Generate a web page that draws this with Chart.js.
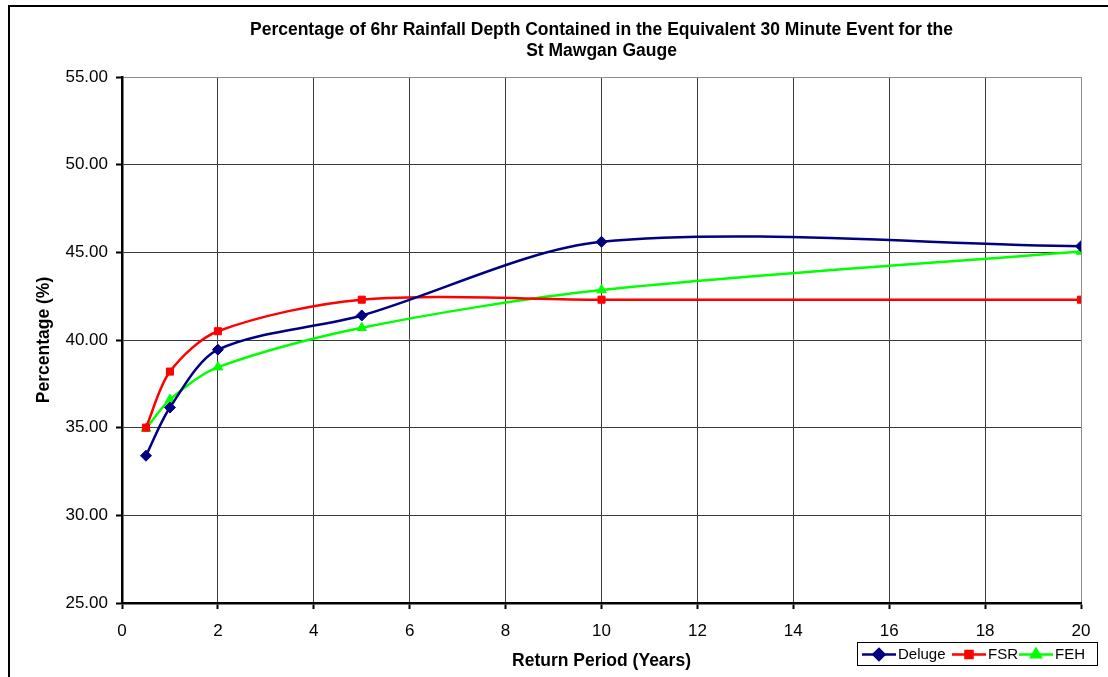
<!DOCTYPE html>
<html>
<head>
<meta charset="utf-8">
<script src="https://cdn.jsdelivr.net/npm/chart.js@4.4.0/dist/chart.umd.min.js"></script>
<style>
  html, body { margin: 0; padding: 0; background: #fff; }
  #wrap { width: 1108px; height: 677px; position: relative; }
</style>
</head>
<body>
<div id="wrap"><canvas id="rainChart" width="1108" height="677"></canvas></div>
<script>
// Return periods (years) and the % of 6hr depth in the 30 minute event
const returnPeriods = [0.5, 1, 2, 5, 10, 20];
const delugeValues = [33.4, 36.15, 39.45, 41.4, 45.6, 45.35];
const fsrValues = [35.0, 38.2, 40.5, 42.3, 42.3, 42.3];
const fehValues = [34.95, 36.6, 38.45, 40.7, 42.85, 45.05];
const seriesNames = ["Deluge", "FSR", "FEH"];

const titleLines = [
  "Percentage of 6hr Rainfall Depth Contained in the Equivalent 30 Minute Event for the",
  "St Mawgan Gauge"
];

const FONT = "'Liberation Sans', Arial, sans-serif";

function toPoints(values) {
  return returnPeriods.map((x, i) => ({ x: x, y: values[i] }));
}

function series(label, values, color, style, radius) {
  return {
    label: label,
    data: toPoints(values),
    borderColor: color,
    backgroundColor: color,
    borderWidth: 2.5,
    pointStyle: style,
    pointRadius: radius,
    pointHoverRadius: radius,
    pointBorderWidth: 1,
    tension: 0.3,
    fill: false
  };
}

// frame, title and the boxed legend bottom-right
const decorations = {
  id: "decorations",
  beforeDraw(chart) {
    const ctx = chart.ctx;
    ctx.save();
    ctx.fillStyle = "#fff";
    ctx.fillRect(0, 0, chart.width, chart.height);
    ctx.strokeStyle = "#000";
    ctx.lineWidth = 2;
    ctx.strokeRect(9, 6, chart.width + 20, chart.height + 20);
    ctx.restore();
  },
  afterDraw(chart) {
    const ctx = chart.ctx;
    const area = chart.chartArea;
    ctx.save();
    ctx.fillStyle = "#000";
    ctx.font = "bold 17.5px " + FONT;
    ctx.textAlign = "center";
    ctx.textBaseline = "middle";
    const cx = (area.left + area.right) / 2;
    ctx.fillText(titleLines[0], cx, 30);
    ctx.fillText(titleLines[1], cx, 51);

    // legend
    const lx = 857, ly = 642, lw = 240, lh = 23;
    ctx.fillStyle = "#fff";
    ctx.fillRect(lx, ly, lw, lh);
    ctx.strokeStyle = "#000";
    ctx.lineWidth = 1;
    ctx.strokeRect(lx + 0.5, ly + 0.5, lw, lh);
    ctx.font = "15px " + FONT;
    ctx.textAlign = "left";
    const offsets = [5, 95, 162];
    chart.data.datasets.forEach((ds, i) => {
      const x0 = lx + offsets[i];
      const y0 = ly + lh / 2 + 1;
      ctx.strokeStyle = ds.borderColor;
      ctx.lineWidth = 2.5;
      ctx.beginPath();
      ctx.moveTo(x0, y0);
      ctx.lineTo(x0 + 34, y0);
      ctx.stroke();
      ctx.fillStyle = ds.backgroundColor;
      Chart.helpers.drawPoint(ctx, {
        pointStyle: ds.pointStyle,
        radius: ds.pointRadius,
        borderWidth: 1,
        rotation: 0
      }, x0 + 17, y0);
      ctx.fillStyle = "#000";
      ctx.fillText(ds.label, x0 + 36, y0);
    });
    ctx.restore();
  }
};

function gridColor(edgeValue) {
  return (c) => (c.tick && c.tick.value === edgeValue ? "#8c8c8c" : "#3a3a3a");
}

new Chart(document.getElementById("rainChart"), {
  type: "line",
  data: {
    datasets: [
      series(seriesNames[0], delugeValues, "#000080", "rectRot", 5.5),
      series(seriesNames[1], fsrValues, "#ff0000", "rect", 5),
      series(seriesNames[2], fehValues, "#00ff00", "triangle", 5.5)
    ]
  },
  options: {
    responsive: false,
    animation: false,
    devicePixelRatio: 1,
    layout: { padding: { top: 77, right: 27, bottom: 0, left: 0 } },
    plugins: {
      legend: { display: false },
      title: { display: false },
      tooltip: { enabled: false }
    },
    scales: {
      x: {
        type: "linear",
        min: 0,
        max: 20,
        afterFit: (scale) => { scale.height = 74; },
        ticks: {
          stepSize: 2,
          color: "#000",
          padding: 12,
          font: { family: FONT, size: 17 }
        },
        grid: {
          color: gridColor(20),
          lineWidth: 1,
          tickLength: 6,
          tickColor: "#000",
          tickWidth: 2
        },
        border: { color: "#000", width: 2.5 },
        title: {
          display: true,
          text: "Return Period (Years)",
          color: "#000",
          font: { family: FONT, size: 17.5, weight: "bold" },
          padding: { top: 0, bottom: 5 }
        }
      },
      y: {
        min: 25,
        max: 55,
        afterFit: (scale) => { scale.width = 122; },
        ticks: {
          stepSize: 5,
          color: "#000",
          padding: 8,
          font: { family: FONT, size: 17 },
          callback: (v) => Number(v).toFixed(2)
        },
        grid: {
          color: gridColor(55),
          lineWidth: 1,
          tickLength: 6,
          tickColor: "#000",
          tickWidth: 2
        },
        border: { color: "#000", width: 2.5 },
        title: {
          display: true,
          text: "Percentage (%)",
          color: "#000",
          font: { family: FONT, size: 17.5, weight: "bold" },
          padding: { top: 34, bottom: 0 }
        }
      }
    }
  },
  plugins: [decorations]
});
</script>
</body>
</html>
